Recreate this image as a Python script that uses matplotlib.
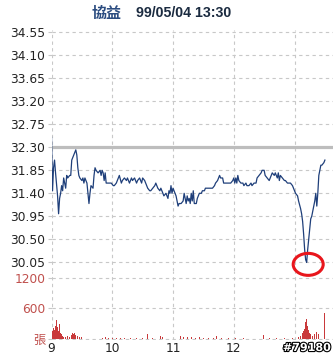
import matplotlib
matplotlib.use("Agg")
from matplotlib import pyplot as plt
from matplotlib.patches import Ellipse
import matplotlib.patheffects as pe

# minutes after 9:00 and last price
price_min = [0, 1, 2, 3, 4, 6, 7, 8, 9, 10, 11, 12, 14, 15, 16, 18, 19, 20, 22, 23,
             24, 25, 26, 27, 28, 30, 31, 32, 33, 35, 36, 37, 38, 39, 41, 42, 43, 44, 46, 48,
             49, 50, 51, 52, 53, 54, 56, 57, 59, 61, 62, 64, 66, 67, 69, 70, 72, 74, 75, 77,
             79, 80, 82, 84, 85, 87, 89, 90, 92, 93, 95, 97, 98, 100, 102, 103, 105, 107, 108, 110,
             111, 113, 115, 116, 117, 118, 119, 120, 121, 123, 125, 126, 128, 130, 131, 133, 134, 135, 136, 137,
             138, 139, 140, 141, 143, 144, 146, 148, 149, 151, 152, 154, 156, 157, 159, 161, 162, 164, 166, 167,
             169, 170, 172, 174, 175, 177, 179, 180, 181, 182, 183, 184, 185, 187, 189, 190, 192, 193, 195, 197,
             198, 200, 202, 203, 205, 207, 208, 210, 211, 213, 215, 216, 218, 220, 221, 223, 224, 225, 226, 228,
             230, 231, 233, 234, 236, 238, 239, 241, 243, 244, 246, 247, 248, 249, 250, 251, 252, 253, 254, 255,
             256, 257, 258, 259, 260, 261, 262, 263, 264, 265, 266, 267, 269, 270]
price = [32.50, 31.45, 31.90, 32.05, 31.80, 31.35, 31.00, 31.30, 31.40, 31.55, 31.45, 31.70, 31.50, 31.75, 31.70, 31.75, 31.75, 32.05, 32.15, 32.20,
         32.25, 32.15, 31.90, 31.75, 31.70, 31.65, 31.70, 31.60, 31.70, 31.60, 31.40, 31.20, 31.40, 31.55, 31.50, 31.75, 31.90, 31.85, 31.80, 31.85,
         31.75, 31.85, 31.80, 31.65, 31.80, 31.60, 31.60, 31.60, 31.60, 31.55, 31.55, 31.60, 31.70, 31.75, 31.60, 31.65, 31.70, 31.65, 31.70, 31.60,
         31.70, 31.65, 31.70, 31.60, 31.65, 31.70, 31.60, 31.70, 31.65, 31.60, 31.50, 31.45, 31.45, 31.50, 31.55, 31.60, 31.50, 31.45, 31.50, 31.40,
         31.35, 31.40, 31.30, 31.45, 31.40, 31.55, 31.40, 31.50, 31.45, 31.35, 31.15, 31.20, 31.20, 31.25, 31.40, 31.20, 31.35, 31.25, 31.30, 31.20,
         31.40, 31.25, 31.45, 31.20, 31.20, 31.30, 31.40, 31.40, 31.45, 31.45, 31.50, 31.50, 31.50, 31.50, 31.50, 31.55, 31.60, 31.65, 31.75, 31.70,
         31.70, 31.60, 31.60, 31.60, 31.60, 31.60, 31.65, 31.70, 31.60, 31.70, 31.60, 31.75, 31.65, 31.60, 31.60, 31.55, 31.60, 31.55, 31.55, 31.60,
         31.55, 31.60, 31.60, 31.70, 31.75, 31.80, 31.85, 31.85, 31.75, 31.70, 31.65, 31.70, 31.80, 31.75, 31.80, 31.70, 31.80, 31.65, 31.75, 31.70,
         31.65, 31.65, 31.60, 31.60, 31.60, 31.55, 31.50, 31.40, 31.35, 31.25, 31.10, 31.00, 30.85, 30.60, 30.30, 30.10, 30.05, 30.30, 30.50, 30.70,
         30.90, 30.95, 31.05, 31.15, 31.25, 31.40, 31.15, 31.40, 31.75, 31.85, 31.95, 31.95, 32.00, 32.05]

vol_min = [0, 1, 2, 3, 4, 5, 6, 7, 8, 9, 10, 11, 12, 14, 16, 18, 20, 21, 22, 23,
           24, 26, 28, 30, 33, 34, 35, 36, 38, 40, 42, 44, 47, 50, 53, 56, 60, 64, 68, 72,
           78, 84, 90, 95, 100, 108, 110, 113, 118, 122, 125, 127, 130, 134, 138, 142, 146, 150, 155, 160,
           163, 168, 175, 182, 190, 198, 205, 209, 215, 222, 230, 238, 244, 246, 248, 249, 250, 251, 252, 253,
           254, 255, 256, 258, 260, 262, 264, 270]
vol = [1120, 150, 220, 180, 260, 370, 240, 160, 300, 120, 90, 60, 40, 30, 60, 40, 80, 110, 90, 120,
       70, 60, 40, 30, 60, 175, 120, 80, 60, 50, 40, 30, 25, 20, 30, 20, 15, 20, 15, 25,
       15, 10, 15, 100, 15, 60, 40, 50, 30, 40, 120, 60, 40, 30, 35, 25, 30, 20, 25, 20,
       50, 20, 15, 10, 15, 10, 15, 80, 10, 15, 10, 15, 40, 60, 120, 150, 200, 330, 385, 250,
       180, 120, 100, 60, 90, 140, 100, 515]

prev_close = 32.30
price_ticks = [30.05, 30.50, 30.95, 31.40, 31.85, 32.30, 32.75, 33.20, 33.65, 34.10, 34.55]
vol_ticks = [0, 600, 1200]
vol_labels = ['張', '600', '1200']
hour_ticks = [0, 60, 120, 180, 240]
hour_labels = ['9', '10', '11', '12', '']

W, H = 336, 358
fig = plt.figure(figsize=(W / 100, H / 100), dpi=100)
left = 51.5 / W
width = 281.5 / W
ax = fig.add_axes([left, 1 - 271 / H, width, 241 / H])
axv = fig.add_axes([left, 1 - 340 / H, width, 69 / H], sharex=ax)

grid_kw = dict(color='#c8c8c8', lw=0.8, ls=(0, (3, 3)))
for a in (ax, axv):
    for s in a.spines.values():
        s.set_visible(False)
    a.patch.set_visible(False)
    a.grid(True, **grid_kw)
    a.set_axisbelow(True)
    a.tick_params(axis='y', length=3, color='#c8c8c8', pad=1.5, labelsize=8.8)
    a.tick_params(axis='x', length=0, pad=1.5, labelsize=8.8, colors='#222222')

ax.set_xlim(0, 278)
ax.set_ylim(29.88, 34.595)
ax.set_yticks(price_ticks)
ax.set_yticklabels(['%.2f' % v for v in price_ticks], color='#222222')
ax.tick_params(axis='x', labelbottom=False)

ax.axhline(prev_close, color='#bdbdbd', lw=2.3, zorder=2)
ax.plot(price_min, price, color='#1f3f7a', lw=0.9, zorder=3)

axv.set_ylim(-20, 1333)
axv.bar(vol_min, vol, width=0.8, color='#c9393b', zorder=3)
axv.set_yticks(vol_ticks)
axv.set_yticklabels(vol_labels, color='#c0504d',
                    family=['DejaVu Sans', 'Noto Sans CJK TC'])
axv.set_xticks(hour_ticks)
axv.set_xticklabels(hour_labels)

# circle the low of the day (drawn on the top axes so the volume panel does not hide it)
lo = price.index(min(price))
axv.add_patch(Ellipse(ax.transData.transform((price_min[lo] + 1.5, price[lo] - 0.04)),
                      30, 22, transform=None,
                      fill=False, ec='#e8161c', lw=2.2, clip_on=False, zorder=5))

fig.text(122 / W, 1 - 13 / H, '協益', ha='right', va='center', fontsize=10.8,
         fontweight='bold', color='#2b4c80', family=['Noto Sans CJK TC'])
fig.text(136 / W, 1 - 13 / H, '99/05/04 13:30', ha='left', va='center', fontsize=10.2,
         fontweight='bold', color='#1b2b40', family='Liberation Sans')
fig.text(331 / W, 1 - 348 / H, '#79180', ha='right', va='center', fontsize=8.0,
         fontweight='bold', color='white',
         path_effects=[pe.withStroke(linewidth=1.6, foreground='black')])

fig.savefig('out.png', dpi=100)
